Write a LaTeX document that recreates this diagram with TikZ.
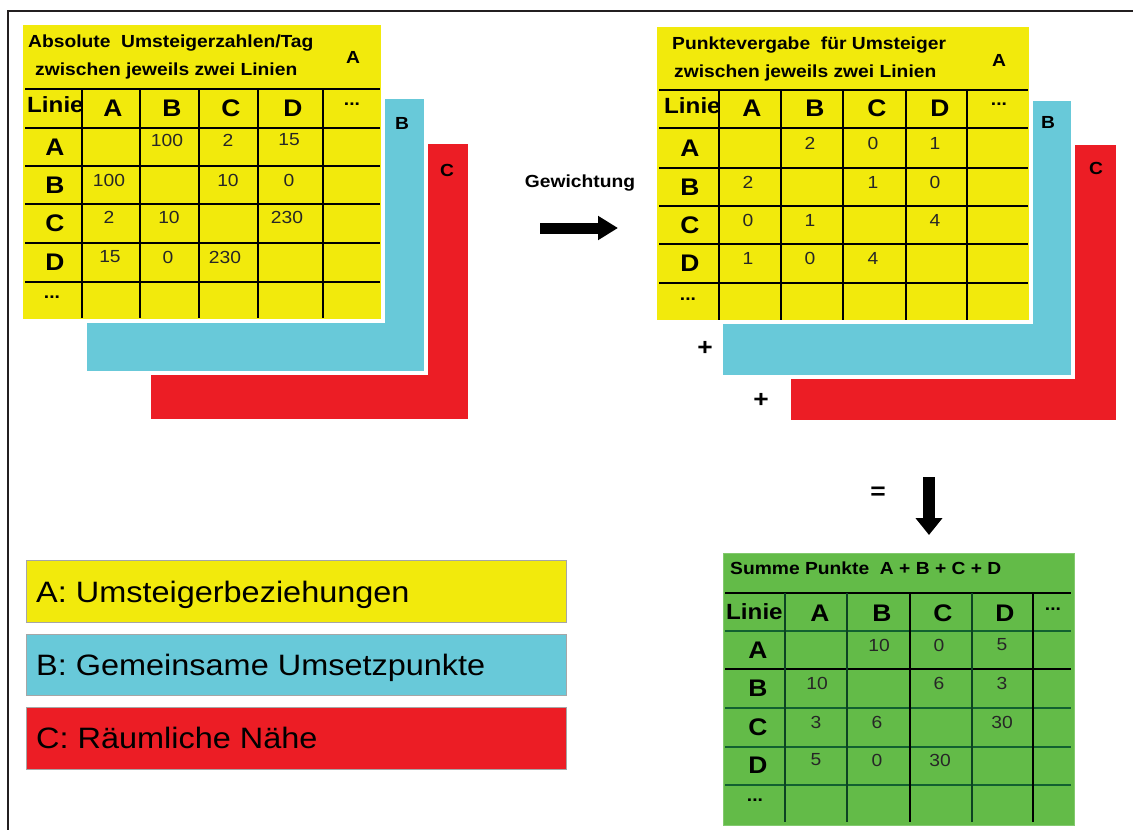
\documentclass[tikz,border=0pt]{standalone}
\usepackage{fontspec}
\setmainfont{Liberation Sans}[FakeStretch=1.1]
\usepackage{tikz}
\usetikzlibrary{arrows.meta, calc, positioning}
\definecolor{layeryellow}{RGB}{242,234,12}
\definecolor{layercyan}{RGB}{104,201,217}
\definecolor{layerred}{RGB}{236,29,37}
\definecolor{sumgreen}{RGB}{99,187,72}
\definecolor{gridgreen}{RGB}{18,96,48}
\definecolor{framegray}{RGB}{35,31,32}

\begin{document}
\begin{tikzpicture}[x=1pt, y=-1pt, > = Triangle,
	frameline/.style={line width=2pt, draw=framegray},
	layer/.style={draw=white, line width=4pt},
	legendbox/.style={draw=black!35, line width=1pt},
	gridthick/.style={line width=2.5pt},
	gridthin/.style={line width=1.4pt},
	title/.style={font=\bfseries\fontsize{17.5}{20}\selectfont, inner sep=0pt, anchor=base west},
	linie/.style={font=\bfseries\fontsize{22}{22}\selectfont, inner sep=0pt, anchor=west},
	head/.style={font=\bfseries\fontsize{24}{24}\selectfont, inner sep=0pt},
	num/.style={font=\fontsize{17.5}{17.5}\selectfont, inner sep=0pt, text=black!85},
	layerlabel/.style={font=\bfseries\fontsize{17.5}{17.5}\selectfont, inner sep=0pt},
	legendtext/.style={font=\fontsize{29.5}{29.5}\selectfont, inner sep=0pt, anchor=base west},
	bigarrow/.style={line width=11pt, -{Triangle[length=20pt, width=23pt]}}
]
	\useasboundingbox (0,0) rectangle (1133,830);
	% outer frame
	\draw[frameline] (8,830) -- (8,11) -- (1133,11);

	% absolute numbers, layers C, B, A
	\filldraw[layer, fill=layerred] (149,142) rectangle (470,421);
	\node[layerlabel] (absC) at (447,170) {C};
	\filldraw[layer, fill=layercyan] (85,97) rectangle (426,373);
	\node[layerlabel] (absB) at (402,123) {B};
	\filldraw[layer, fill=layeryellow] (21,23) rectangle (383,321);
	\node[layerlabel] (absA) at (353,57) {A};
	\node[title] (abs-title1) at (28,47) {Absolute\ \ Umsteigerzahlen/Tag};
	\node[title] (abs-title2) at (35,75) {zwischen jeweils zwei Linien};
	\foreach \y in {89,128,166,204,243,282}
		\draw[gridthick] (25,\y) -- (380,\y);
	\foreach \x in {82,140,199,258,323}
		\draw[gridthick] (\x,89) -- (\x,318);
	\node[linie] (abs-linie) at (27,105) {Linie};
	\node[head] (abs-hA) at (113,108) {A};
	\node[head] (abs-hB) at (172,108) {B};
	\node[head] (abs-hC) at (231,108) {C};
	\node[head] (abs-hD) at (293,108) {D};
	\node[layerlabel] (abs-hdots) at (352,104) {...};
	\node[head] (abs-rA) at (55,147) {A};
	\node[head] (abs-rB) at (55,185) {B};
	\node[head] (abs-rC) at (55,223) {C};
	\node[head] (abs-rD) at (55,262) {D};
	\node[layerlabel] (abs-rdots) at (52,297) {...};
	\node[num] (abs-AB) at (167,140) {100};
	\node[num] (abs-AC) at (228,140) {2};
	\node[num] (abs-AD) at (289,140) {15};
	\node[num] (abs-BA) at (109,180) {100};
	\node[num] (abs-BC) at (228,180) {10};
	\node[num] (abs-BD) at (289,180) {0};
	\node[num] (abs-CA) at (109,217) {2};
	\node[num] (abs-CB) at (169,217) {10};
	\node[num] (abs-CD) at (287,217) {230};
	\node[num] (abs-DA) at (110,257) {15};
	\node[num] (abs-DB) at (168,257) {0};
	\node[num] (abs-DC) at (225,257) {230};

	% weighting
	\node[layerlabel] (gewichtung) at (580,183) {Gewichtung};
	\coordinate (gew-start) at (540,228);
	\coordinate (gew-end) at (618,228);
	\draw[bigarrow] (gew-start) -- (gew-end);

	% points, layers C, B, A
	\filldraw[layer, fill=layerred] (789,143) rectangle (1118,422);
	\node[layerlabel] (ptsC) at (1096,168) {C};
	\filldraw[layer, fill=layercyan] (721,99) rectangle (1073,377);
	\node[layerlabel] (ptsB) at (1048,122) {B};
	\filldraw[layer, fill=layeryellow] (655,25) rectangle (1031,322);
	\node[layerlabel] (ptsA) at (999,60) {A};
	\node[title] (pts-title1) at (672,49) {Punktevergabe\ \ für Umsteiger};
	\node[title] (pts-title2) at (674,77) {zwischen jeweils zwei Linien};
	\foreach \y in {90,128,206,244}
		\draw[gridthin] (659,\y) -- (1028,\y);
	\foreach \y in {168,283}
		\draw[gridthick] (659,\y) -- (1028,\y);
	\draw[gridthick] (719,90) -- (719,320);
	\foreach \x in {781,843,906,967}
		\draw[gridthin] (\x,90) -- (\x,320);
	\node[linie] (pts-linie) at (664,106) {Linie};
	\node[head] (pts-hA) at (752,108) {A};
	\node[head] (pts-hB) at (815,108) {B};
	\node[head] (pts-hC) at (877,108) {C};
	\node[head] (pts-hD) at (940,108) {D};
	\node[layerlabel] (pts-hdots) at (999,104) {...};
	\node[head] (pts-rA) at (690,148) {A};
	\node[head] (pts-rB) at (690,187) {B};
	\node[head] (pts-rC) at (690,225) {C};
	\node[head] (pts-rD) at (690,263) {D};
	\node[layerlabel] (pts-rdots) at (688,299) {...};
	\node[num] (pts-AB) at (810,143) {2};
	\node[num] (pts-AC) at (873,143) {0};
	\node[num] (pts-AD) at (935,143) {1};
	\node[num] (pts-BA) at (748,182) {2};
	\node[num] (pts-BC) at (873,182) {1};
	\node[num] (pts-BD) at (935,182) {0};
	\node[num] (pts-CA) at (748,220) {0};
	\node[num] (pts-CB) at (810,220) {1};
	\node[num] (pts-CD) at (935,220) {4};
	\node[num] (pts-DA) at (748,258) {1};
	\node[num] (pts-DB) at (810,258) {0};
	\node[num] (pts-DC) at (873,258) {4};
	\node[head] (plus1) at (705,348) {+};
	\node[head] (plus2) at (761,400) {+};

	% sum
	\node[head] (equals) at (878,493) {=};
	\coordinate (sum-start) at (929,477);
	\coordinate (sum-end) at (929,535);
	\draw[line width=12pt, -{Triangle[length=17pt, width=26pt]}] (sum-start) -- (sum-end);
	\filldraw[draw=sumgreen!80!white, line width=1pt, fill=sumgreen] (723,553) rectangle (1074,825);
	\node[title] (sum-title) at (730,574) {Summe Punkte\ \ A + B + C + D};
	\foreach \y in {593,669}
		\draw[gridthick] (725,\y) -- (1071,\y);
	\foreach \y in {631,708,747,785}
		\draw[gridthin, gridgreen, line width=2pt] (725,\y) -- (1071,\y);
	\foreach \x in {910,1033}
		\draw[gridthick] (\x,593) -- (\x,822);
	\foreach \x in {785,847,972}
		\draw[gridthin, gridgreen!70!black, line width=2pt] (\x,593) -- (\x,822);
	\node[linie] (sum-linie) at (726,612) {Linie};
	\node[head] (sum-hA) at (820,613) {A};
	\node[head] (sum-hB) at (882,613) {B};
	\node[head] (sum-hC) at (943,613) {C};
	\node[head] (sum-hD) at (1005,613) {D};
	\node[layerlabel] (sum-hdots) at (1053,609) {...};
	\node[head] (sum-rA) at (758,650) {A};
	\node[head] (sum-rB) at (758,688) {B};
	\node[head] (sum-rC) at (758,727) {C};
	\node[head] (sum-rD) at (758,765) {D};
	\node[layerlabel] (sum-rdots) at (755,800) {...};
	\node[num] (sum-AB) at (879,645) {10};
	\node[num] (sum-AC) at (939,645) {0};
	\node[num] (sum-AD) at (1002,645) {5};
	\node[num] (sum-BA) at (817,683) {10};
	\node[num] (sum-BC) at (939,683) {6};
	\node[num] (sum-BD) at (1002,683) {3};
	\node[num] (sum-CA) at (816,722) {3};
	\node[num] (sum-CB) at (877,722) {6};
	\node[num] (sum-CD) at (1002,722) {30};
	\node[num] (sum-DA) at (816,760) {5};
	\node[num] (sum-DB) at (877,760) {0};
	\node[num] (sum-DC) at (940,760) {30};

	% legend
	\filldraw[legendbox, fill=layeryellow] (26,560) rectangle (566,622);
	\node[legendtext] (legA) at (36,602) {A: Umsteigerbeziehungen};
	\filldraw[legendbox, fill=layercyan] (26,634) rectangle (566,695);
	\node[legendtext] (legB) at (36,675) {B: Gemeinsame Umsetzpunkte};
	\filldraw[legendbox, fill=layerred] (26,707) rectangle (566,769);
	\node[legendtext] (legC) at (36,748) {C: Räumliche Nähe};
\end{tikzpicture}
\end{document}
